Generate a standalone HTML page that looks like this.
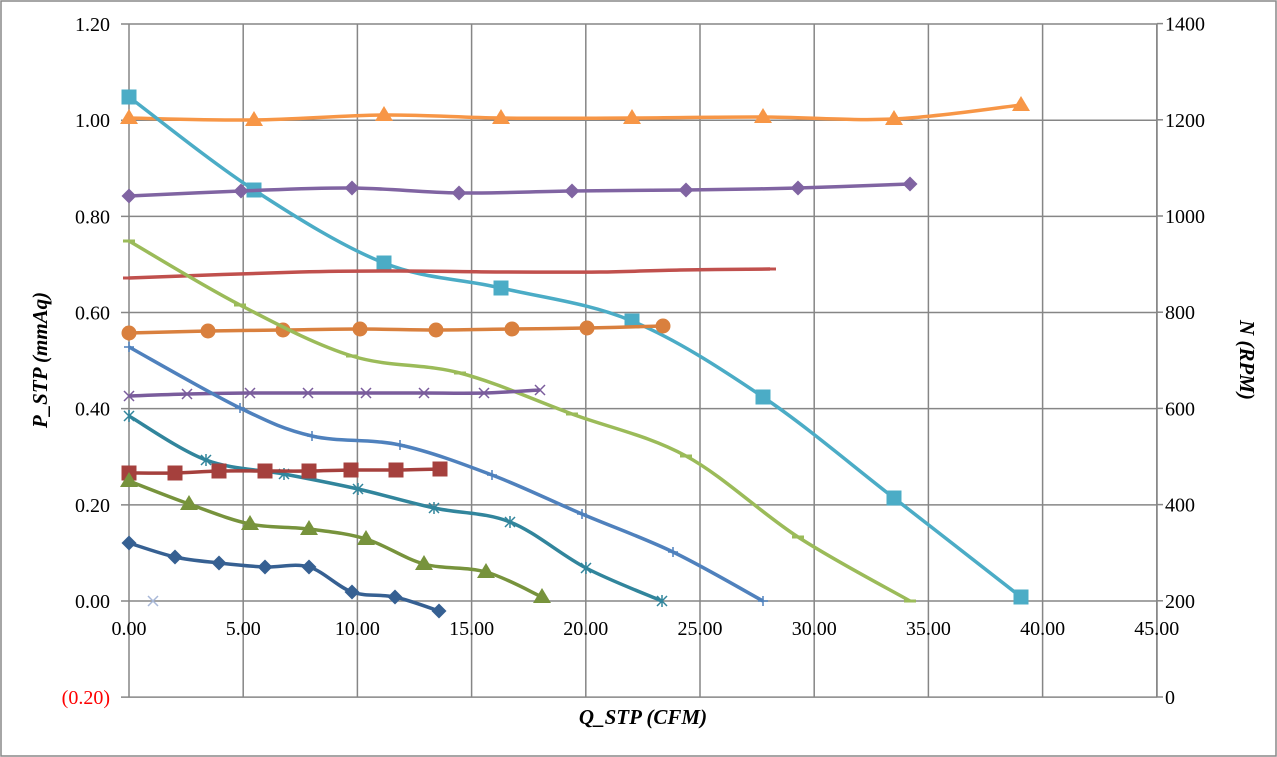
<!DOCTYPE html>
<html><head><meta charset="utf-8"><style>
html,body{margin:0;padding:0;background:#fff}
svg{display:block;font-family:"Liberation Serif",serif}
</style></head><body>
<svg id="s" width="1277" height="757" xmlns="http://www.w3.org/2000/svg">
<rect x="1" y="1" width="1275" height="755" fill="#fff" stroke="#888" stroke-width="1.5"/>
<g id="grid" stroke="#868686" stroke-width="1.5"></g>
<g id="lab" font-size="20" fill="#000"></g>
<text x="47" y="360" font-size="21" font-weight="bold" font-style="italic" text-anchor="middle" transform="rotate(-90 47 360)">P_STP (mmAq)</text>
<text x="1240" y="360" font-size="21" font-weight="bold" font-style="italic" text-anchor="middle" transform="rotate(90 1240 360)">N (RPM)</text>
<text x="643" y="724" font-size="21" font-weight="bold" font-style="italic" text-anchor="middle">Q_STP (CFM)</text>
<g id="ser"></g>
</svg>
<script>
var NS="http://www.w3.org/2000/svg";
function el(p,t,a,txt){var e=document.createElementNS(NS,t);for(var k in a)e.setAttribute(k,a[k]);if(txt!=null)e.textContent=txt;document.getElementById(p).appendChild(e);return e;}
var x0=129,sx=22.84,y0=601,sy=480.8;
for(var i=0;i<=9;i++){var x=x0+i*sx*5;el('grid','line',{x1:x,y1:24,x2:x,y2:697});el('lab','text',{x:x,y:635,'text-anchor':'middle'},(i*5).toFixed(2));}
for(var j=-1;j<=6;j++){var y=y0-j*0.2*sy;el('grid','line',{x1:121,y1:y,x2:1157,y2:y});
 var t=j<0?'(0.20)':(j*0.2).toFixed(2);var e=el('lab','text',{x:110,y:y+7,'text-anchor':'end'},t);if(j<0)e.setAttribute('fill','#f00');}
for(var r=0;r<=7;r++){var y=697-r*96.2;el('grid','line',{x1:1157,y1:y,x2:1163,y2:y});el('lab','text',{x:1165,y:y+7},String(r*200));}
el('grid','line',{x1:1157,y1:24,x2:1157,y2:697});
function path(p){var d='M'+p[0][0]+','+p[0][1];for(var i=0;i<p.length-1;i++){var a=p[i-1]||p[i],b=p[i],c=p[i+1],e=p[i+2]||c,t=6;
d+=' C'+(b[0]+(c[0]-a[0])/t)+','+(b[1]+(c[1]-a[1])/t)+' '+(c[0]-(e[0]-b[0])/t)+','+(c[1]-(e[1]-b[1])/t)+' '+c[0]+','+c[1];}return d;}
function mk(m,x,y,c){
if(m=='tri')el('ser','polygon',{points:(x)+','+(y-9)+' '+(x+9)+','+(y+6)+' '+(x-9)+','+(y+6),fill:c});
else if(m=='sq')el('ser','rect',{x:x-7.5,y:y-7.5,width:15,height:15,fill:c});
else if(m=='dia')el('ser','polygon',{points:x+','+(y-7.5)+' '+(x+7.5)+','+y+' '+x+','+(y+7.5)+' '+(x-7.5)+','+y,fill:c});
else if(m=='cir')el('ser','circle',{cx:x,cy:y,r:7.5,fill:c});
else if(m=='dash')el('ser','line',{x1:x-6,y1:y,x2:x+6,y2:y,stroke:c,'stroke-width':3});
else if(m=='x'){el('ser','path',{d:'M'+(x-5)+','+(y-5)+'L'+(x+5)+','+(y+5)+'M'+(x+5)+','+(y-5)+'L'+(x-5)+','+(y+5),stroke:c,'stroke-width':1.5});}
else if(m=='plus'){el('ser','path',{d:'M'+(x-5)+','+y+'L'+(x+5)+','+y+'M'+x+','+(y-5)+'L'+x+','+(y+5),stroke:c,'stroke-width':1.5});}
else if(m=='star'){el('ser','path',{d:'M'+(x-5)+','+(y-5)+'L'+(x+5)+','+(y+5)+'M'+(x+5)+','+(y-5)+'L'+(x-5)+','+(y+5)+'M'+x+','+(y-6)+'L'+x+','+(y+6),stroke:c,'stroke-width':1.5});}
}
var S=[
['#F79646','tri',[[129,118],[254,120],[384,115],[501,118],[632,118],[763,117],[894,119],[1021,105]]],
['#4BACC6','sq',[[129,97],[254,190],[384,263],[501,288],[632,321],[763,397],[894,498],[1021,597]]],
['#8064A2','dia',[[129,196],[241,191],[352,188],[459,193],[572,191],[686,190],[798,188],[910,184]]],
['#C0504D','dash',[[129,278],[300,272],[400,271],[500,272],[600,272],[680,270],[770,269]]],
['#D9803E','cir',[[129,333],[208,331],[283,330],[360,329],[436,330],[512,329],[587,328],[663,326]]],
['#9BBB59','dash',[[129,241],[240,305],[352,356],[460,373],[572,414],[686,456],[798,537],[910,601]]],
['#7A5C9C','x',[[129,396],[187,394],[250,393],[308,393],[366,393],[424,393],[484,393],[540,390]]],
['#4F81BD','plus',[[129,347],[240,408],[312,436],[400,445],[492,475],[582,514],[673,552],[763,601]]],
['#31859C','star',[[129,416],[206,460],[284,474],[358,489],[434,508],[510,522],[586,568],[662,601]]],
['#A5403D','sq',[[129,473],[175,473],[219,471],[265,471],[309,471],[351,470],[396,470],[440,469]]],
['#77933C','tri',[[129,481],[189,504],[250,524],[309,529],[366,539],[424,564],[486,572],[542,597]]],
['#366092','dia',[[129,543],[175,557],[219,563],[265,567],[309,567],[352,592],[395,597],[439,611]]]
];
S.forEach(function(s){el('ser','path',{d:path(s[2]),fill:'none',stroke:s[0],'stroke-width':3.5,'stroke-linejoin':'round'});s[2].forEach(function(p){mk(s[1],p[0],p[1],s[0]);});});
mk('x',153,601,'#A8B8D8');
</script>
</body></html>
